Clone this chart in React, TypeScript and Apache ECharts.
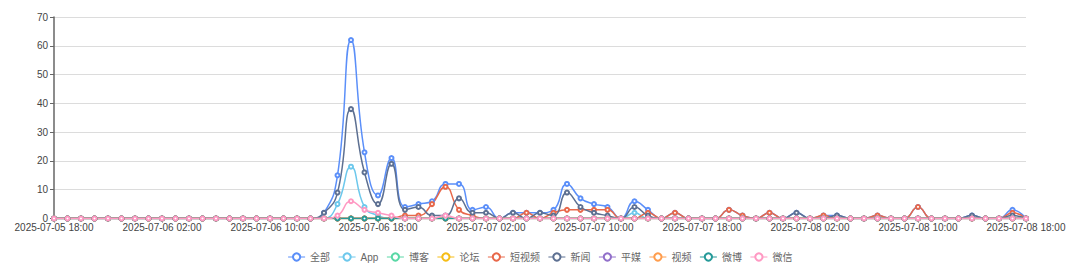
import React, { useEffect, useRef } from "react";
import * as echarts from "echarts";

// hourly categories, 2025-07-05 18:00 .. 2025-07-08 18:00
function buildHours(): string[] {
  const out: string[] = [];
  const d0 = Date.UTC(2025, 6, 5, 18, 0);
  for (let h = 0; h <= 72; h++) {
    const d = new Date(d0 + h * 3600 * 1000);
    const p = (n: number) => String(n).padStart(2, "0");
    out.push(`${d.getUTCFullYear()}-${p(d.getUTCMonth() + 1)}-${p(d.getUTCDate())} ${p(d.getUTCHours())}:00`);
  }
  return out;
}
const categories = buildHours();

const seriesNames = ["全部", "App", "博客", "论坛", "短视频", "新闻", "平媒", "视频", "微博", "微信"];
const colors = ["#5B8FF9", "#6DC8EC", "#5AD8A6", "#F6BD16", "#E8684A", "#5D7092", "#9270CA", "#FF9D4D", "#269A99", "#FF99C3"];

const zeros = new Array(73).fill(0);

// values by hour index 0..72
const allValues = [
  0, 0, 0, 0, 0, 0, 0, 0, 0, 0,
  0, 0, 0, 0, 0, 0, 0, 0, 0, 0,
  2, 15, 62, 23, 8, 21, 4, 5, 6, 12,
  12, 3, 4, 0, 2, 2, 2, 3, 12, 7,
  5, 4, 0, 6, 3, 0, 2, 0, 0, 0,
  3, 1, 0, 2, 0, 2, 0, 1, 1, 0,
  0, 1, 0, 0, 4, 0, 0, 0, 1, 0,
  0, 3, 0,
];
const appValues = [
  0, 0, 0, 0, 0, 0, 0, 0, 0, 0,
  0, 0, 0, 0, 0, 0, 0, 0, 0, 0,
  0, 5, 18, 4, 1, 0, 0, 0, 0, 0,
  0, 0, 0, 0, 0, 0, 0, 0, 0, 0,
  0, 0, 0, 2, 0, 0, 0, 0, 0, 0,
  0, 0, 0, 0, 0, 0, 0, 0, 0, 0,
  0, 0, 0, 0, 0, 0, 0, 0, 0, 0,
  0, 0, 0,
];
const blogValues = zeros.slice();
const forumValues = zeros.slice();
const shortVideoValues = [
  0, 0, 0, 0, 0, 0, 0, 0, 0, 0,
  0, 0, 0, 0, 0, 0, 0, 0, 0, 0,
  0, 0, 0, 0, 0, 0, 1, 1, 5, 11,
  3, 1, 0, 0, 0, 2, 0, 2, 3, 3,
  3, 3, 0, 0, 2, 0, 2, 0, 0, 0,
  3, 1, 0, 2, 0, 0, 0, 1, 0, 0,
  0, 1, 0, 0, 4, 0, 0, 0, 0, 0,
  0, 2, 0,
];
const newsValues = [
  0, 0, 0, 0, 0, 0, 0, 0, 0, 0,
  0, 0, 0, 0, 0, 0, 0, 0, 0, 0,
  2, 9, 38, 16, 5, 19, 3, 4, 1, 1,
  7, 2, 2, 0, 2, 0, 2, 1, 9, 4,
  2, 1, 0, 4, 1, 0, 0, 0, 0, 0,
  0, 0, 0, 0, 0, 2, 0, 0, 1, 0,
  0, 0, 0, 0, 0, 0, 0, 0, 1, 0,
  0, 1, 0,
];
const printValues = zeros.slice();
const videoValues = zeros.slice();
const weiboValues = zeros.slice();
const wechatValues = [
  0, 0, 0, 0, 0, 0, 0, 0, 0, 0,
  0, 0, 0, 0, 0, 0, 0, 0, 0, 0,
  0, 1, 6, 3, 2, 1, 0, 0, 0, 1,
  0, 0, 0, 0, 0, 0, 0, 0, 0, 0,
  0, 0, 0, 0, 0, 0, 0, 0, 0, 0,
  0, 0, 0, 0, 0, 0, 0, 0, 0, 0,
  0, 0, 0, 0, 0, 0, 0, 0, 0, 0,
  0, 0, 0,
];

const seriesData = [
  allValues, appValues, blogValues, forumValues, shortVideoValues,
  newsValues, printValues, videoValues, weiboValues, wechatValues,
];

const yTicks = { min: 0, max: 70, interval: 10 };

const FONT = "Liberation Sans, Noto Sans CJK SC, sans-serif";

export default function App() {
  const ref = useRef<HTMLDivElement>(null);
  useEffect(() => {
    if (!ref.current) return;
    const chart = echarts.init(ref.current, undefined, { renderer: "svg" });
    chart.setOption({
      animation: false,
      color: colors,
      textStyle: { fontFamily: FONT },
      grid: { left: 46, right: 46, top: 9, bottom: 54.5, containLabel: false },
      legend: {
        top: 239,
        left: "center",
        itemWidth: 17,
        itemHeight: 9,
        itemGap: 8,
        lineStyle: { width: 1 },
        itemStyle: { borderWidth: 1 },
        textStyle: { fontSize: 10, color: "#666", fontFamily: FONT },
        data: seriesNames,
      },
      xAxis: {
        type: "category",
        boundaryGap: false,
        data: categories,
        axisLine: { show: true, lineStyle: { color: "#666" } },
        axisTick: { show: true, interval: 7, length: 4, lineStyle: { color: "#666" } },
        axisLabel: { interval: 7, fontSize: 10, color: "#444", margin: 4, fontFamily: FONT },
        splitLine: { show: false },
      },
      yAxis: {
        type: "value",
        min: yTicks.min,
        max: yTicks.max,
        interval: yTicks.interval,
        axisLine: { show: true, lineStyle: { color: "#666", width: 1.5 } },
        axisTick: { show: true, length: 4, lineStyle: { color: "#666" } },
        axisLabel: { fontSize: 10, color: "#444", margin: 6, fontFamily: FONT },
        splitLine: { show: true, lineStyle: { color: "#dcdcdc" } },
      },
      series: seriesNames.map((name, i) => ({
        name,
        type: "line",
        smooth: true,
        symbol: "emptyCircle",
        symbolSize: 4,
        showSymbol: true,
        showAllSymbol: true,
        lineStyle: { width: 1.5 },
        itemStyle: { color: colors[i], borderWidth: 1 },
        data: seriesData[i],
      })),
    });
    return () => chart.dispose();
  }, []);
  return <div ref={ref} style={{ width: 1064, height: 265 }} />;
}
